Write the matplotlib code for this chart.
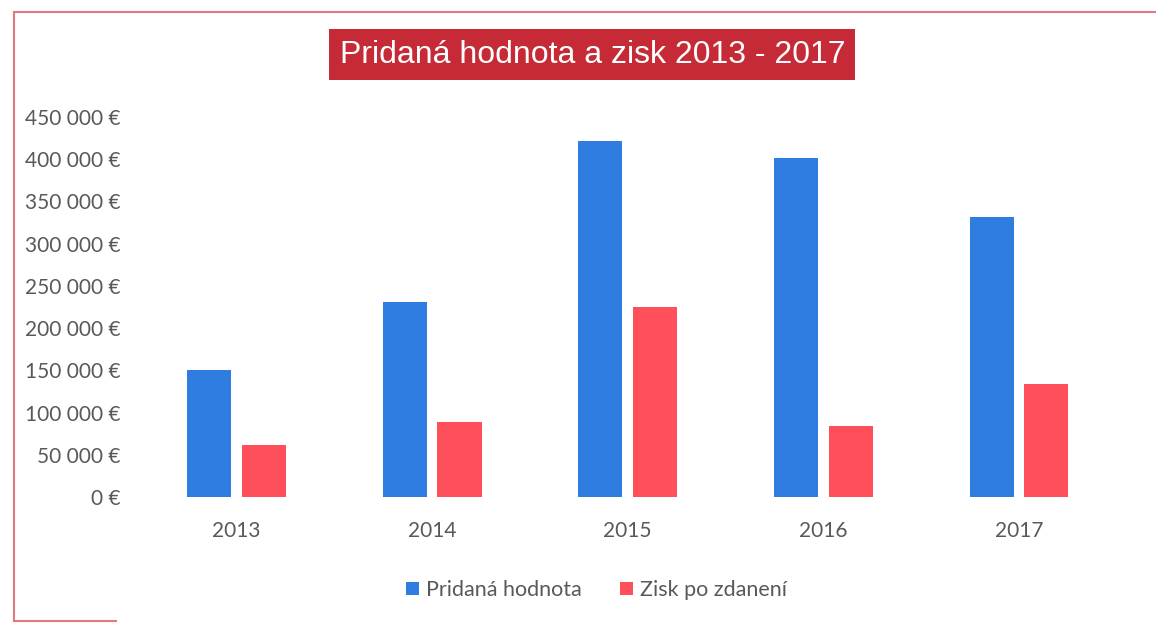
import matplotlib
matplotlib.use("Agg")
import matplotlib.pyplot as plt
from matplotlib.lines import Line2D
from matplotlib.ticker import FuncFormatter
import numpy as np

# udaje z grafu
roky = ["2013", "2014", "2015", "2016", "2017"]
pridana_hodnota = [150000, 231000, 422000, 402000, 331000]
zisk_po_zdaneni = [62000, 89000, 225000, 84000, 134000]
nazov = "Pridaná hodnota a zisk 2013 - 2017"
legenda = ["Pridaná hodnota", "Zisk po zdanení"]

modra = "#2f7de1"
cervena = "#ff4f5a"
seda = "#595959"

fig = plt.figure(figsize=(11.56, 6.23), dpi=100)
ax = fig.add_axes([0.12, 0.2022, 0.846, 0.6100])

x = np.arange(len(roky))
w = 0.225
ax.bar(x - 0.14, pridana_hodnota, w, color=modra, label=legenda[0])
ax.bar(x + 0.14, zisk_po_zdaneni, w, color=cervena, label=legenda[1])

ax.set_xlim(-0.5, len(roky) - 0.5)
ax.set_ylim(0, 450000)
ax.set_yticks(np.arange(0, 450001, 50000))
ax.yaxis.set_major_formatter(FuncFormatter(lambda v, p: f"{int(v):,} €".replace(",", " ")))
ax.set_xticks(x)
ax.set_xticklabels(roky)
for s in ax.spines.values():
    s.set_visible(False)
ax.tick_params(axis="both", length=0, colors=seda, labelsize=15)
ax.tick_params(axis="x", pad=17)
ax.tick_params(axis="y", pad=13)
for t in ax.get_xticklabels() + ax.get_yticklabels():
    t.set_fontfamily("Lato")

# titulok v cervenom ramceku
fig.text(0.5125, 0.9125, nazov, ha="center", va="center", color="white",
         fontsize=23, family="Liberation Sans",
         bbox=dict(boxstyle="square,pad=0.32", fc="#c62a36", ec="none"))

leg = fig.legend(loc="center", bbox_to_anchor=(0.516, 0.053), ncol=2, frameon=False,
                 handlelength=0.6, handleheight=0.6, handletextpad=0.3,
                 columnspacing=1.8, prop={"family": "Lato", "size": 15.5})
for t in leg.get_texts():
    t.set_color(seda)

# okraj fotky
okraj = "#e07a80"
fig.add_artist(Line2D([0.012, 0.012], [0.003, 0.981], color=okraj, lw=1.5))
fig.add_artist(Line2D([0.012, 1.0], [0.981, 0.981], color=okraj, lw=1.5))
fig.add_artist(Line2D([0.012, 0.1], [0.003, 0.003], color=okraj, lw=1.5))

fig.savefig("out.png", dpi=100)
